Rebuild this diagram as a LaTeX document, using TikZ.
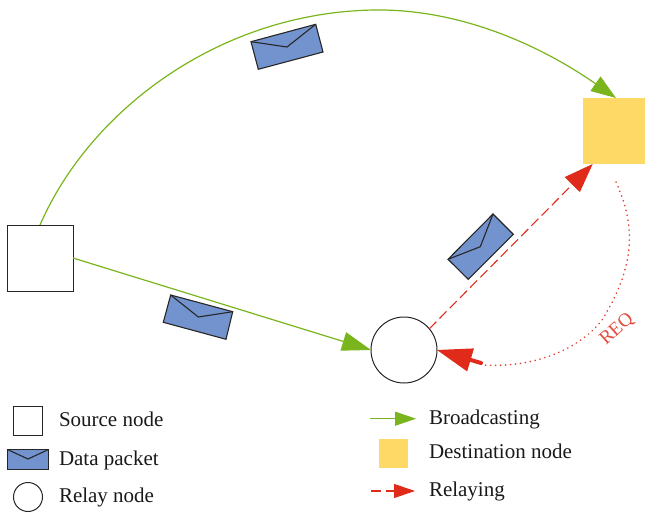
\documentclass[tikz,border=0pt]{standalone}
\usepackage{fontspec}
\setmainfont{Liberation Serif}
\usetikzlibrary{arrows.meta}
\definecolor{grn}{HTML}{7AB51D}
\definecolor{redc}{HTML}{E02B1A}
\definecolor{yel}{HTML}{FFD966}
\definecolor{blu}{HTML}{7393CF}
\tikzset{
  sq/.style={draw=black!85,line width=0.9pt,rectangle,inner sep=0pt,outer sep=0pt,minimum size=#1},
  circ/.style={draw=black!85,line width=1pt,circle,inner sep=0pt,outer sep=0pt,minimum size=#1},
  dst/.style={fill=yel,rectangle,inner sep=0pt,outer sep=0pt,minimum width=#1,minimum height=#1},
  envl/.style={draw=black!85,fill=blu,line width=1.1pt,line join=miter},
  flap/.style={draw=black!85,line width=1.1pt,line join=miter},
  lbl/.style={anchor=base west,inner sep=0pt,outer sep=0pt,font=\fontsize{21}{24}\selectfont,text=black!90},
  bcast/.style={draw=grn,line width=1.2pt,-{Triangle[length=29pt,width=19pt,fill=grn,color=grn]}},
  bcasttop/.style={draw=grn,line width=1.2pt,-{Triangle[length=25pt,width=17.5pt,fill=grn,color=grn]}},
  bcastsmall/.style={draw=grn,line width=1.2pt,-{Triangle[length=21pt,width=14pt,fill=grn,color=grn]}},
  relayline/.style={draw=redc,line width=1.1pt,dash pattern=on 10pt off 4.5pt,-{Triangle[length=29pt,width=21pt,fill=redc,color=redc]}},
  relaysmall/.style={draw=redc,line width=1.1pt,dash pattern=on 10pt off 4.5pt,-{Triangle[length=21pt,width=14pt,fill=redc,color=redc]}},
  reqdots/.style={draw=redc!90,line width=1.6pt,line cap=round,dash pattern=on 0.3pt off 4.7pt},
  reqhead/.style={draw=redc,line width=4pt,line cap=round,-{Triangle[length=35pt,width=24pt,fill=redc,color=redc,line width=0pt]}},
}
\begin{document}
\begin{tikzpicture}[x=1pt,y=-1pt]
\useasboundingbox (0,0) rectangle (645,513);
% main nodes
\node[sq=66pt] (source) at (40,258) {};
\node[circ=66pt] (relay) at (404,350) {};
\node[dst=66pt] (dest) at (616,131) {};
\coordinate (destin) at (592.7,164);
\coordinate (reqstart) at (616,182);
\coordinate (reqend) at (483,365);
\coordinate (stub) at (481,363);
% connectors
\draw[bcasttop] (source.north) .. controls (90,110) and (220,12) .. (375,10) .. controls (460,9) and (540,45) .. (dest.north);
\draw[bcast] (source.east) -- (relay.west);
\draw[relayline] (relay.40) -- (destin);
\draw[reqdots] (reqstart) .. controls (634,222) and (638,262) .. (602,320) .. controls (577,352) and (530,368) .. (reqend);
\draw[reqhead] (stub) -- (relay.east);
\node[rotate=42,text=redc!85,inner sep=0pt,font=\fontsize{19}{20}\selectfont] (req) at (617,329.5) {REQ};
% envelopes
\draw[envl] (251,41.7) -- (315.7,24.3) -- (323,52) -- (258.3,69.3) -- cycle;
\draw[flap] (251,41.7) -- (287,47) -- (315.7,24.3);
\draw[envl] (170.7,295) -- (232.7,311.7) -- (226,339.3) -- (163.3,322.3) -- cycle;
\draw[flap] (170.7,295) -- (198.3,317) -- (232.7,311.7);
\draw[envl] (448,259.3) -- (493,214) -- (513.3,234.3) -- (468.3,279.3) -- cycle;
\draw[flap] (448,259.3) -- (480.3,246.7) -- (493,214);
% legend left
\node[sq=29pt] (lsource) at (28,420.5) {};
\draw[envl] (7.5,449.5) rectangle (48.5,469.5);
\draw[flap] (7.5,449.5) -- (28,459) -- (48.5,449.5);
\node[circ=29pt] (lrelay) at (28,497) {};
\node[lbl] (t1) at (59,426.5) {Source node};
\node[lbl] (t2) at (59,465) {Data packet};
\node[lbl] (t3) at (59,502.7) {Relay node};
% legend right
\coordinate (b0) at (370,418.7);
\coordinate (b1) at (416,418.7);
\draw[bcastsmall] (b0) -- (b1);
\node[dst=29pt] (ldest) at (393.5,453.5) {};
\coordinate (r0) at (371,491);
\coordinate (r1) at (415,491);
\draw[relaysmall] (r0) -- (r1);
\node[lbl] (t4) at (429,424) {Broadcasting};
\node[lbl] (t5) at (429,458) {Destination node};
\node[lbl] (t6) at (429,496) {Relaying};
\end{tikzpicture}
\end{document}
